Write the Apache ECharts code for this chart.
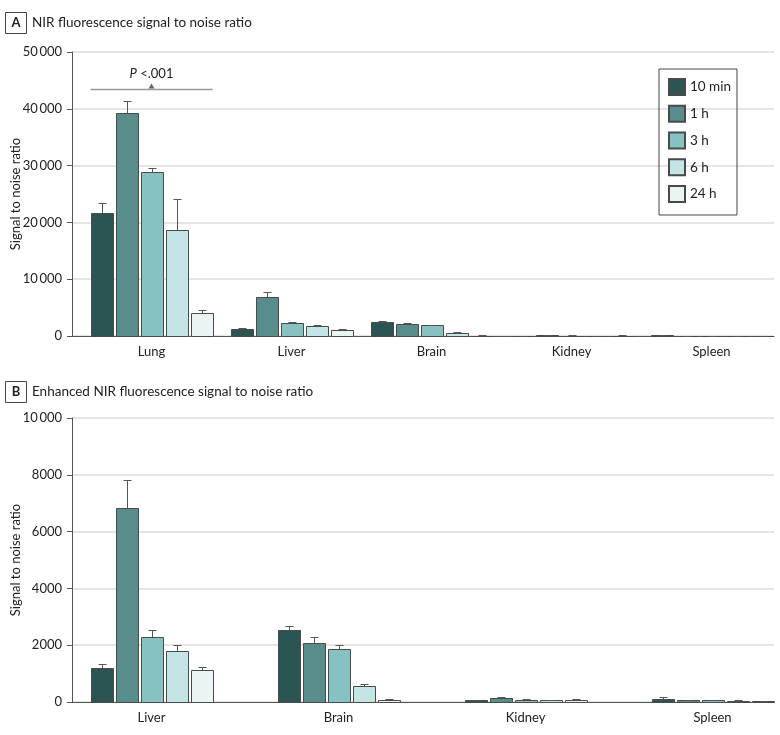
<!DOCTYPE html>
<html>
<head>
<meta charset="utf-8">
<script src="https://cdn.jsdelivr.net/npm/echarts@6/dist/echarts.min.js"></script>
<style>html,body{margin:0;padding:0;background:#fff}#c{width:780px;height:735px}</style>
</head>
<body>
<div id="c"></div>
<script>
// ---- data ----
const categoriesA = ['Lung', 'Liver', 'Brain', 'Kidney', 'Spleen'];
const categoriesB = ['Liver', 'Brain', 'Kidney', 'Spleen'];
const timepoints = ['10 min', '1 h', '3 h', '6 h', '24 h'];
// values per organ, ordered as timepoints
const lung = [21700, 39300, 28900, 18600, 4100];
const lungErr = [1650, 2050, 600, 5600, 450];
const liver = [1210, 6830, 2290, 1800, 1120];
const liverErr = [140, 990, 250, 190, 100];
const brain = [2530, 2080, 1860, 580, 80];
const brainErr = [160, 200, 140, 60, 20];
const kidney = [70, 140, 70, 55, 75];
const kidneyErr = [15, 30, 25, 30, 40];
const spleen = [120, 60, 60, 40, 20];
const spleenErr = [45, 25, 20, 15, 15];
const yTicksA = [0, 10000, 20000, 30000, 40000, 50000];
const yTicksB = [0, 2000, 4000, 6000, 8000, 10000];
const pAnnotation = '{i|P} <.001';
const pLineValue = 43500;

// ---- styles ----
const colors = ['#2b5453', '#588d8b', '#86c2c1', '#c3e6e5', '#e9f4f4'];
const FONT = 'Lato';
const TXT = '#222';
const barWidth = 22, barGapPx = 3;
const pitch = barWidth + barGapPx;

const organ = {
  Lung: [lung, lungErr], Liver: [liver, liverErr], Brain: [brain, brainErr],
  Kidney: [kidney, kidneyErr], Spleen: [spleen, spleenErr]
};

function fmt(v) {
  if (v >= 10000) { const s = String(v); return s.slice(0, s.length - 3) + '\u2009' + s.slice(-3); }
  return String(v);
}

function makeBarRender(k) {
  return function (params, api) {
    const cat = api.value(0), v = api.value(1), e = api.value(2);
    const b = api.coord([cat, 0]);
    const t = api.coord([cat, v]);
    const te = api.coord([cat, v + e]);
    const cx = b[0] + (k - (timepoints.length - 1) / 2) * pitch;
    const x0 = Math.round(cx - barWidth / 2) + 0.5;
    const yTop = Math.round(t[1]) + 0.5;
    const yBase = Math.round(b[1]) + 0.5;
    const xe = Math.round(cx) + 0.5;
    const ye = Math.round(te[1]) + 0.5;
    const st = { stroke: '#555', lineWidth: 1 };
    return {
      type: 'group',
      children: [
        { type: 'rect', shape: { x: x0, y: yTop, width: barWidth, height: yBase - yTop },
          style: { fill: colors[k], stroke: '#4a4a4a', lineWidth: 1 } },
        { type: 'line', shape: { x1: xe, y1: yTop, x2: xe, y2: ye }, style: st },
        { type: 'line', shape: { x1: xe - 4, y1: ye, x2: xe + 4, y2: ye }, style: st }
      ]
    };
  };
}

function panelSeries(cats, axisIdx) {
  return timepoints.map((tp, k) => ({
    name: tp, type: 'custom', xAxisIndex: axisIdx, yAxisIndex: axisIdx,
    itemStyle: { color: colors[k], borderColor: '#4a4a4a', borderWidth: 1 },
    renderItem: makeBarRender(k), encode: { x: 0, y: 1 },
    data: cats.map((c, i) => [i, organ[c][0][k], organ[c][1][k]])
  }));
}

function xAxis(cats, gridIndex, min, max) {
  return {
    type: 'value', gridIndex, min, max,
    axisLine: { show: true, onZero: false, lineStyle: { color: '#555', width: 1 } },
    axisTick: { show: false }, splitLine: { show: false },
    axisLabel: {
      customValues: cats.map((c, i) => i),
      formatter: v => cats[Math.round(v)] || '',
      color: TXT, fontFamily: FONT, fontSize: 13, margin: 9
    }
  };
}
function yAxis(ticks, gridIndex) {
  return {
    type: 'value', gridIndex, min: ticks[0], max: ticks[ticks.length - 1], interval: ticks[1] - ticks[0],
    name: 'Signal to noise ratio', nameLocation: 'middle', nameGap: 50, nameMoveOverlap: false,
    nameTextStyle: { color: TXT, fontFamily: FONT, fontSize: 13 },
    axisLine: { show: true, onZero: false, lineStyle: { color: '#555', width: 1 } },
    axisTick: { show: true, length: 5, lineStyle: { color: '#555' } },
    splitLine: { show: true, lineStyle: { color: '#dcdcdc', width: 1.5 } },
    axisLabel: { formatter: fmt, color: TXT, fontFamily: FONT, fontSize: 13, margin: 10 }
  };
}

const annotationSeries = {
  type: 'custom', xAxisIndex: 0, yAxisIndex: 0, z: 6, silent: true,
  encode: { x: 0, y: 1 },
  data: [[0, pLineValue]],
  renderItem: (params, api) => {
    const p = api.coord([api.value(0), api.value(1)]);
    const half = (timepoints.length * barWidth + (timepoints.length - 1) * barGapPx) / 2;
    const y = Math.round(p[1]) + 0.5;
    return {
      type: 'group', children: [
        { type: 'line', shape: { x1: p[0] - half, y1: y, x2: p[0] + half, y2: y }, style: { stroke: '#999', lineWidth: 1.5 } },
        { type: 'polygon', shape: { points: [[p[0] - 3, y - 1], [p[0] + 3, y - 1], [p[0], y - 6]] }, style: { fill: '#666' } },
        { type: 'text', x: p[0], y: y - 16, style: {
            text: pAnnotation, align: 'center', verticalAlign: 'middle',
            font: '13px ' + FONT, fill: TXT,
            rich: { i: { fontStyle: 'italic', fontFamily: FONT, fontSize: 13, fill: TXT } }
        } }
      ]
    };
  }
};

function titleBox(letter, title, y) {
  return [
    { type: 'rect', shape: { x: 5.5, y: y - 10.5, width: 21, height: 21 }, style: { fill: '#fff', stroke: '#444', lineWidth: 1 } },
    { type: 'text', x: 16, y: y, style: { text: letter, font: 'bold 13px ' + FONT, fill: TXT, align: 'center', verticalAlign: 'middle' } },
    { type: 'text', x: 32, y: y, style: { text: title, font: '13.5px ' + FONT, fill: TXT, align: 'left', verticalAlign: 'middle' } }
  ];
}

const chart = echarts.init(document.getElementById('c'), null, { renderer: 'canvas' });
chart.setOption({
  animation: false,
  backgroundColor: '#fff',
  grid: [
    { left: 72, top: 52, width: 702, height: 284, containLabel: false, outerBoundsMode: 'none' },
    { left: 72, top: 418, width: 702, height: 284, containLabel: false, outerBoundsMode: 'none' }
  ],
  xAxis: [
    xAxis(categoriesA, 0, -(79.5 / 140), -(79.5 / 140) + 702 / 140),
    xAxis(categoriesB, 1, -(79.5 / 187), -(79.5 / 187) + 702 / 187)
  ],
  yAxis: [yAxis(yTicksA, 0), yAxis(yTicksB, 1)],
  legend: {
    data: timepoints, orient: 'vertical', left: 659, top: 69,
    itemWidth: 16, itemHeight: 16, itemGap: 8.75,
    padding: [9, 6, 12, 9], borderColor: '#444', borderWidth: 1,
    icon: 'rect', selectedMode: false,
    textStyle: { color: TXT, fontFamily: FONT, fontSize: 13.5, lineHeight: 16 }
  },
  graphic: [].concat(
    titleBox('A', 'NIR fluorescence signal to noise ratio', 23),
    titleBox('B', 'Enhanced NIR fluorescence signal to noise ratio', 392)
  ),
  series: [].concat(panelSeries(categoriesA, 0), panelSeries(categoriesB, 1), [annotationSeries])
});
</script>
</body>
</html>
